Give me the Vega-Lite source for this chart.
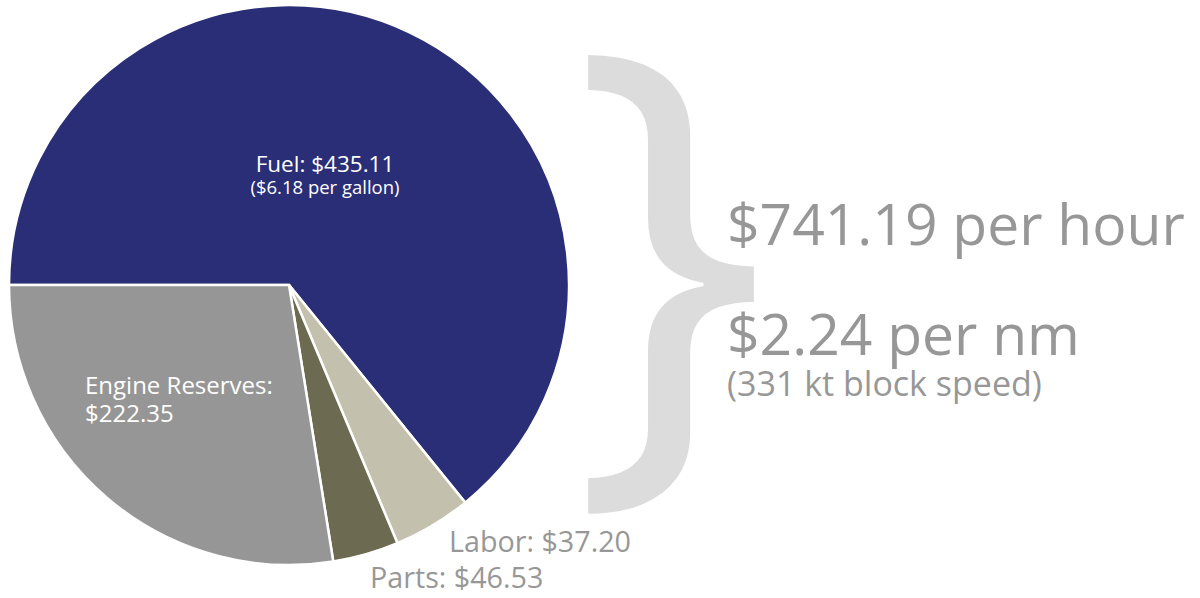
{
  "$schema": "https://vega.github.io/schema/vega-lite/v6.json",
  "width": 1200,
  "height": 598,
  "padding": 0,
  "autosize": {"type": "fit", "contains": "padding"},
  "background": "white",
  "view": {"stroke": null},
  "config": {"text": {"font": "Open Sans"}},
  "data": {
    "values": [
      {"category": "Fuel", "cost": 435.11, "share": 64.1, "ord": 1, "label": "Fuel: $435.11", "note": "($6.18 per gallon)"},
      {"category": "Labor", "cost": 37.20, "share": 4.5, "ord": 2, "label": "Labor: $37.20", "note": ""},
      {"category": "Parts", "cost": 46.53, "share": 3.8, "ord": 3, "label": "Parts: $46.53", "note": ""},
      {"category": "Engine Reserves", "cost": 222.35, "share": 27.5, "ord": 4, "label": "Engine Reserves:\n$222.35", "note": ""}
    ]
  },
  "layer": [
    {
      "mark": {"type": "arc", "outerRadius": 280, "stroke": "white", "strokeWidth": 2.5},
      "encoding": {
        "theta": {"field": "share", "type": "quantitative", "stack": true, "scale": {"range": [-1.5708, 4.7124]}},
        "order": {"field": "ord", "type": "quantitative"},
        "color": {"field": "category", "type": "nominal", "legend": null,
          "scale": {"domain": ["Fuel", "Labor", "Parts", "Engine Reserves"], "range": ["#2a2e77", "#c3c1ad", "#6c6a50", "#969696"]}},
        "x": {"datum": 289, "type": "quantitative", "scale": {"domain": [0, 1200]}, "axis": null},
        "y": {"datum": 286, "type": "quantitative", "scale": {"domain": [0, 598], "reverse": true}, "axis": null}
      }
    },
    {
      "transform": [{"filter": "datum.category == 'Fuel'"}],
      "mark": {"type": "text", "fontSize": 22.5, "color": "white", "align": "center", "baseline": "alphabetic"},
      "encoding": {
        "text": {"field": "label"},
        "x": {"datum": 325, "type": "quantitative"},
        "y": {"datum": 173, "type": "quantitative"}
      }
    },
    {
      "transform": [{"filter": "datum.category == 'Fuel'"}],
      "mark": {"type": "text", "fontSize": 18.5, "color": "white", "align": "center", "baseline": "alphabetic"},
      "encoding": {
        "text": {"field": "note"},
        "x": {"datum": 325, "type": "quantitative"},
        "y": {"datum": 195, "type": "quantitative"}
      }
    },
    {
      "transform": [{"filter": "datum.category == 'Engine Reserves'"}],
      "mark": {"type": "text", "fontSize": 24, "color": "white", "align": "left", "baseline": "alphabetic", "lineBreak": "\n", "lineHeight": 28},
      "encoding": {
        "text": {"field": "label"},
        "x": {"datum": 85, "type": "quantitative"},
        "y": {"datum": 395, "type": "quantitative"}
      }
    },
    {
      "transform": [{"filter": "datum.category == 'Labor'"}],
      "mark": {"type": "text", "fontSize": 28.7, "color": "#979797", "align": "left", "baseline": "alphabetic"},
      "encoding": {
        "text": {"field": "label"},
        "x": {"datum": 449, "type": "quantitative"},
        "y": {"datum": 554, "type": "quantitative"}
      }
    },
    {
      "transform": [{"filter": "datum.category == 'Parts'"}],
      "mark": {"type": "text", "fontSize": 28.7, "color": "#979797", "align": "left", "baseline": "alphabetic"},
      "encoding": {
        "text": {"field": "label"},
        "x": {"datum": 370, "type": "quantitative"},
        "y": {"datum": 590, "type": "quantitative"}
      }
    },
    {
      "transform": [{"filter": "datum.category == 'Fuel'"}],
      "mark": {"type": "text", "fontSize": 526, "color": "#dcdcdc", "align": "left", "baseline": "alphabetic"},
      "encoding": {
        "text": {"value": "}"},
        "x": {"datum": 571, "type": "quantitative"},
        "y": {"datum": 432, "type": "quantitative"}
      }
    },
    {
      "transform": [{"filter": "datum.category == 'Fuel'"}],
      "mark": {"type": "text", "fontSize": 57, "color": "#979797", "align": "left", "baseline": "alphabetic"},
      "encoding": {
        "text": {"value": "$741.19 per hour"},
        "x": {"datum": 727, "type": "quantitative"},
        "y": {"datum": 246, "type": "quantitative"}
      }
    },
    {
      "transform": [{"filter": "datum.category == 'Fuel'"}],
      "mark": {"type": "text", "fontSize": 57, "color": "#979797", "align": "left", "baseline": "alphabetic"},
      "encoding": {
        "text": {"value": "$2.24 per nm"},
        "x": {"datum": 727, "type": "quantitative"},
        "y": {"datum": 356, "type": "quantitative"}
      }
    },
    {
      "transform": [{"filter": "datum.category == 'Fuel'"}],
      "mark": {"type": "text", "fontSize": 34, "color": "#979797", "align": "left", "baseline": "alphabetic"},
      "encoding": {
        "text": {"value": "(331 kt block speed)"},
        "x": {"datum": 727, "type": "quantitative"},
        "y": {"datum": 397, "type": "quantitative"}
      }
    }
  ]
}
